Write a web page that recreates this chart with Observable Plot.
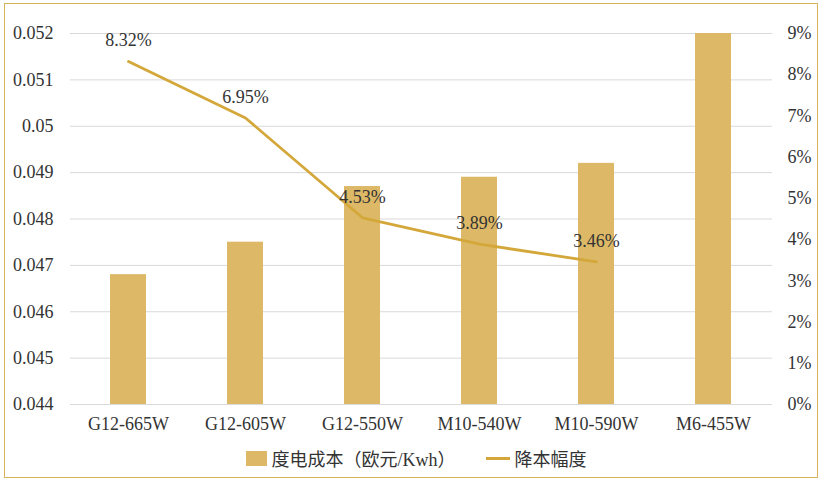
<!DOCTYPE html>
<html><head><meta charset="utf-8">
<script src="https://cdn.jsdelivr.net/npm/d3@7"></script>
<script src="https://cdn.jsdelivr.net/npm/@observablehq/plot@0.6"></script>
<style>
body{margin:0;background:#fff;}
#wrap{position:relative;width:824px;height:484px;overflow:hidden;font-family:"Liberation Serif","Noto Sans CJK SC",serif;}
#frame{position:absolute;left:4px;top:3px;width:814px;height:475px;border:1.5px solid #D8B25C;box-sizing:border-box;}
#chart{position:absolute;left:0;top:0;}
#legend{position:absolute;left:4px;top:445px;width:824px;display:flex;justify-content:center;align-items:center;font-size:18px;color:#333;font-family:"Liberation Serif","Noto Sans CJK SC",serif;}
.sw{display:inline-block;width:21px;height:15px;background:#DDB967;margin-right:5px;}
.ln{display:inline-block;width:24px;height:3px;background:#D4A73A;margin-right:5px;margin-left:30px;}
</style></head>
<body><div id="wrap"><div id="chart"></div><div id="frame"></div>
<div id="legend"><span class="sw"></span><span>度电成本（欧元/Kwh）</span><span class="ln"></span><span>降本幅度</span></div></div>
<script>
const categories = ["G12-665W","G12-605W","G12-550W","M10-540W","M10-590W","M6-455W"];
const costValues = [0.0468,0.0475,0.0487,0.0489,0.0492,0.0520];
const reductionCats = ["G12-665W","G12-605W","G12-550W","M10-540W","M10-590W"];
const reductionValues = [8.32,6.95,4.53,3.89,3.46];
const leftTicks = [0.044,0.045,0.046,0.047,0.048,0.049,0.05,0.051,0.052];
const rightTicks = [0,1,2,3,4,5,6,7,8,9];

const yMin = 0.044, yMax = 0.052, pMax = 9;
const toY = p => yMin + p / pMax * (yMax - yMin);
const bars = categories.map((c,i)=>({cat:c, v:costValues[i]}));
const line = reductionCats.map((c,i)=>({cat:c, p:reductionValues[i], y:toY(reductionValues[i])}));
const rightData = rightTicks.map(p=>({p, y:toY(p)}));

const chart = Plot.plot({
  width:824, height:440,
  marginLeft:70, marginRight:52, marginTop:33, marginBottom:36,
  style:{fontFamily:'"Liberation Serif","Noto Sans CJK SC",serif', fontSize:"18px", color:"#333", background:"transparent"},
  x:{domain:categories, paddingInner:0.69, paddingOuter:0.345, align:0.5, label:null},
  y:{domain:[yMin,yMax], label:null},
  marks:[
    Plot.ruleY(leftTicks,{stroke:"#d9d9d9", strokeWidth:1}),
    Plot.barY(bars,{x:"cat", y1:yMin, y2:"v", fill:"#DDB967"}),
    Plot.axisX({tickSize:0, tickPadding:13, fontSize:18, fill:"#333"}),
    Plot.axisY({ticks:leftTicks, tickSize:0, tickPadding:17, tickFormat:d=>String(d), fontSize:18, fill:"#333", label:null}),
    Plot.axisY({anchor:"right", ticks:rightData.map(d=>d.y), tickSize:0, tickPadding:15, tickFormat:(d,i)=>rightTicks[i]+"%", fontSize:18, fill:"#333", label:null}),
    Plot.line(line,{x:"cat", y:"y", stroke:"#D4A73A", strokeWidth:2.8}),
    Plot.text(line,{x:"cat", y:"y", text:d=>d.p.toFixed(2)+"%", dy:-21, fontSize:18, fill:"#333"})
  ]
});
document.getElementById("chart").appendChild(chart);
</script></body></html>
